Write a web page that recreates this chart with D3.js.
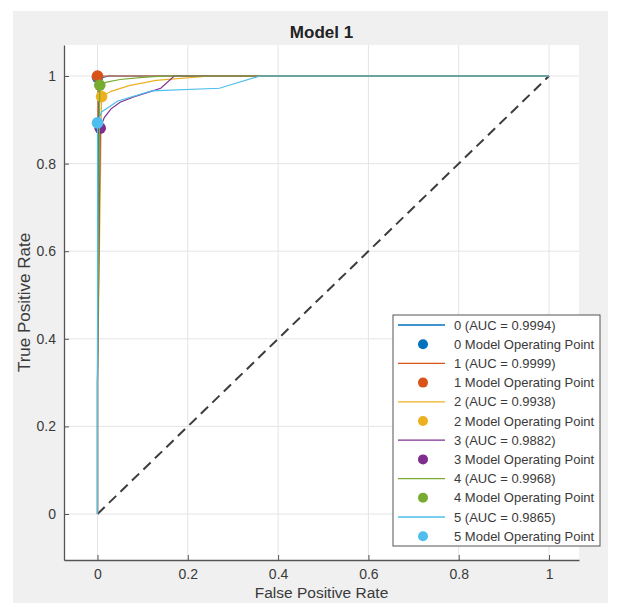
<!DOCTYPE html>
<html><head><meta charset="utf-8">
<script src="https://cdn.jsdelivr.net/npm/d3@7"></script>
<style>body{margin:0;background:#fff;}svg{display:block;}</style>
</head><body>
<script>
// ---- data ----
const classes = ["0","1","2","3","4","5"];
const aucs = [0.9994, 0.9999, 0.9938, 0.9882, 0.9968, 0.9865];
const colors = ["#0072BD","#D95319","#EDB120","#7E2F8E","#77AC30","#4DBEEE"];
const fpr0 = [0, 0, 0.003, 0.01, 0.025, 1];
const tpr0 = [0, 0.3, 0.99, 0.996, 1, 1];
const fpr1 = [0, 0, 0.001, 1];
const tpr1 = [0, 0.3, 1, 1];
const fpr2 = [0, 0, 0.009, 0.03, 0.07, 0.13, 0.25, 1];
const tpr2 = [0, 0.3, 0.953, 0.965, 0.978, 0.99, 1, 1];
const fpr3 = [0, 0, 0.006, 0.015, 0.03, 0.05, 0.08, 0.11, 0.14, 0.17, 1];
const tpr3 = [0, 0.3, 0.881, 0.905, 0.925, 0.94, 0.952, 0.962, 0.972, 1, 1];
const fpr4 = [0, 0, 0.005, 0.02, 0.05, 0.1, 0.15, 1];
const tpr4 = [0, 0.3, 0.979, 0.986, 0.992, 0.997, 1, 1];
const fpr5 = [0, 0, 0.0, 0.009, 0.045, 0.12, 0.27, 0.36, 1];
const tpr5 = [0, 0.3, 0.893, 0.918, 0.943, 0.966, 0.972, 1, 1];
const opX = [0, 0, 0.009, 0.006, 0.005, 0];
const opY = [0.997, 1, 0.953, 0.881, 0.979, 0.893];
const xTicks = [0, 0.2, 0.4, 0.6, 0.8, 1];
const yTicks = [0, 0.2, 0.4, 0.6, 0.8, 1];
const fprs = [fpr0, fpr1, fpr2, fpr3, fpr4, fpr5];
const tprs = [tpr0, tpr1, tpr2, tpr3, tpr4, tpr5];

// ---- layout ----
const W = 620, H = 603;
const L = 64, R = 579, T = 45, B = 560;
const font = "'Liberation Sans', Arial, sans-serif";
const svg = d3.select("body").append("svg").attr("width", W).attr("height", H);
svg.append("rect").attr("x", 13).attr("y", 11).attr("width", 595).attr("height", H - 11).attr("fill", "#f0f0f0");

const x = d3.scaleLinear().domain([-0.0742, 1.0664]).range([L, R]);
const y = d3.scaleLinear().domain([-0.105, 1.0708]).range([B, T]);

svg.append("rect").attr("x", L).attr("y", T).attr("width", R - L).attr("height", B - T).attr("fill", "#fff");

// grid
const g = svg.append("g");
g.selectAll(".gx").data(xTicks).enter().append("line")
  .attr("x1", d => x(d)).attr("x2", d => x(d)).attr("y1", T).attr("y2", B)
  .attr("stroke", "#e4e4e4").attr("stroke-width", 1);
g.selectAll(".gy").data(yTicks).enter().append("line")
  .attr("y1", d => y(d)).attr("y2", d => y(d)).attr("x1", L).attr("x2", R)
  .attr("stroke", "#e4e4e4").attr("stroke-width", 1);

// axes
const xAxis = d3.axisBottom(x).tickValues(xTicks).tickSizeInner(-5).tickSizeOuter(0).tickPadding(9)
  .tickFormat(d => d3.format("")(d));
const yAxis = d3.axisLeft(y).tickValues(yTicks).tickSizeInner(-5).tickSizeOuter(0).tickPadding(8)
  .tickFormat(d => d3.format("")(d));
const gx = svg.append("g").attr("transform", `translate(0,${B})`).call(xAxis);
const gy = svg.append("g").attr("transform", `translate(${L},0)`).call(yAxis);
[gx, gy].forEach(a => {
  a.select(".domain").attr("stroke", "#555").attr("stroke-width", 1.3);
  a.selectAll(".tick line").attr("stroke", "#555");
  a.selectAll("text").attr("font-family", font).attr("font-size", 14).attr("fill", "#3a3a3a");
});

// diagonal
const line = d3.line().x(d => x(d[0])).y(d => y(d[1]));
svg.append("path").attr("d", line([[0,0],[1,1]])).attr("fill", "none")
  .attr("stroke", "#3c3c3c").attr("stroke-width", 2).attr("stroke-dasharray", "10,6");

// curves + operating points
classes.forEach((c, i) => {
  const pts = fprs[i].map((f, j) => [f, tprs[i][j]]);
  svg.append("path").attr("d", line(pts)).attr("fill", "none")
    .attr("stroke", colors[i]).attr("stroke-width", 1.2);
  svg.append("circle").attr("cx", x(opX[i])).attr("cy", y(opY[i])).attr("r", 5.8)
    .attr("fill", colors[i]);
});

// title & labels
svg.append("text").attr("x", (L + R) / 2).attr("y", 38).attr("text-anchor", "middle")
  .attr("font-family", font).attr("font-weight", "bold").attr("font-size", 17).attr("fill", "#222")
  .text("Model 1");
svg.append("text").attr("transform", `translate(30,${(T + B) / 2}) rotate(-90)`).attr("text-anchor", "middle")
  .attr("font-family", font).attr("font-size", 17).attr("fill", "#3a3a3a").text("True Positive Rate");
svg.append("text").attr("x", (L + R) / 2).attr("y", 598).attr("text-anchor", "middle")
  .attr("font-family", font).attr("font-size", 15.5).attr("fill", "#3a3a3a").text("False Positive Rate");

// legend
const lg = svg.append("g");
const lx = 393, ly = 315, lw = 207, lh = 231, rowH = 19.2;
lg.append("rect").attr("x", lx).attr("y", ly).attr("width", lw).attr("height", lh)
  .attr("fill", "#fff").attr("stroke", "#555").attr("stroke-width", 1);
classes.forEach((c, i) => {
  const y1 = ly + 10 + rowH * (2 * i);
  const y2 = y1 + rowH;
  lg.append("line").attr("x1", lx + 5).attr("x2", lx + 52).attr("y1", y1).attr("y2", y1)
    .attr("stroke", colors[i]).attr("stroke-width", 1.3);
  lg.append("text").attr("x", lx + 61).attr("y", y1 + 4.5).attr("font-family", font).attr("font-size", 13)
    .attr("fill", "#3a3a3a").text(`${c} (AUC = ${aucs[i].toFixed(4)})`);
  lg.append("circle").attr("cx", lx + 30).attr("cy", y2).attr("r", 5).attr("fill", colors[i]);
  lg.append("text").attr("x", lx + 61).attr("y", y2 + 4.5).attr("font-family", font).attr("font-size", 13)
    .attr("fill", "#3a3a3a").text(`${c} Model Operating Point`);
});
</script>
</body></html>
